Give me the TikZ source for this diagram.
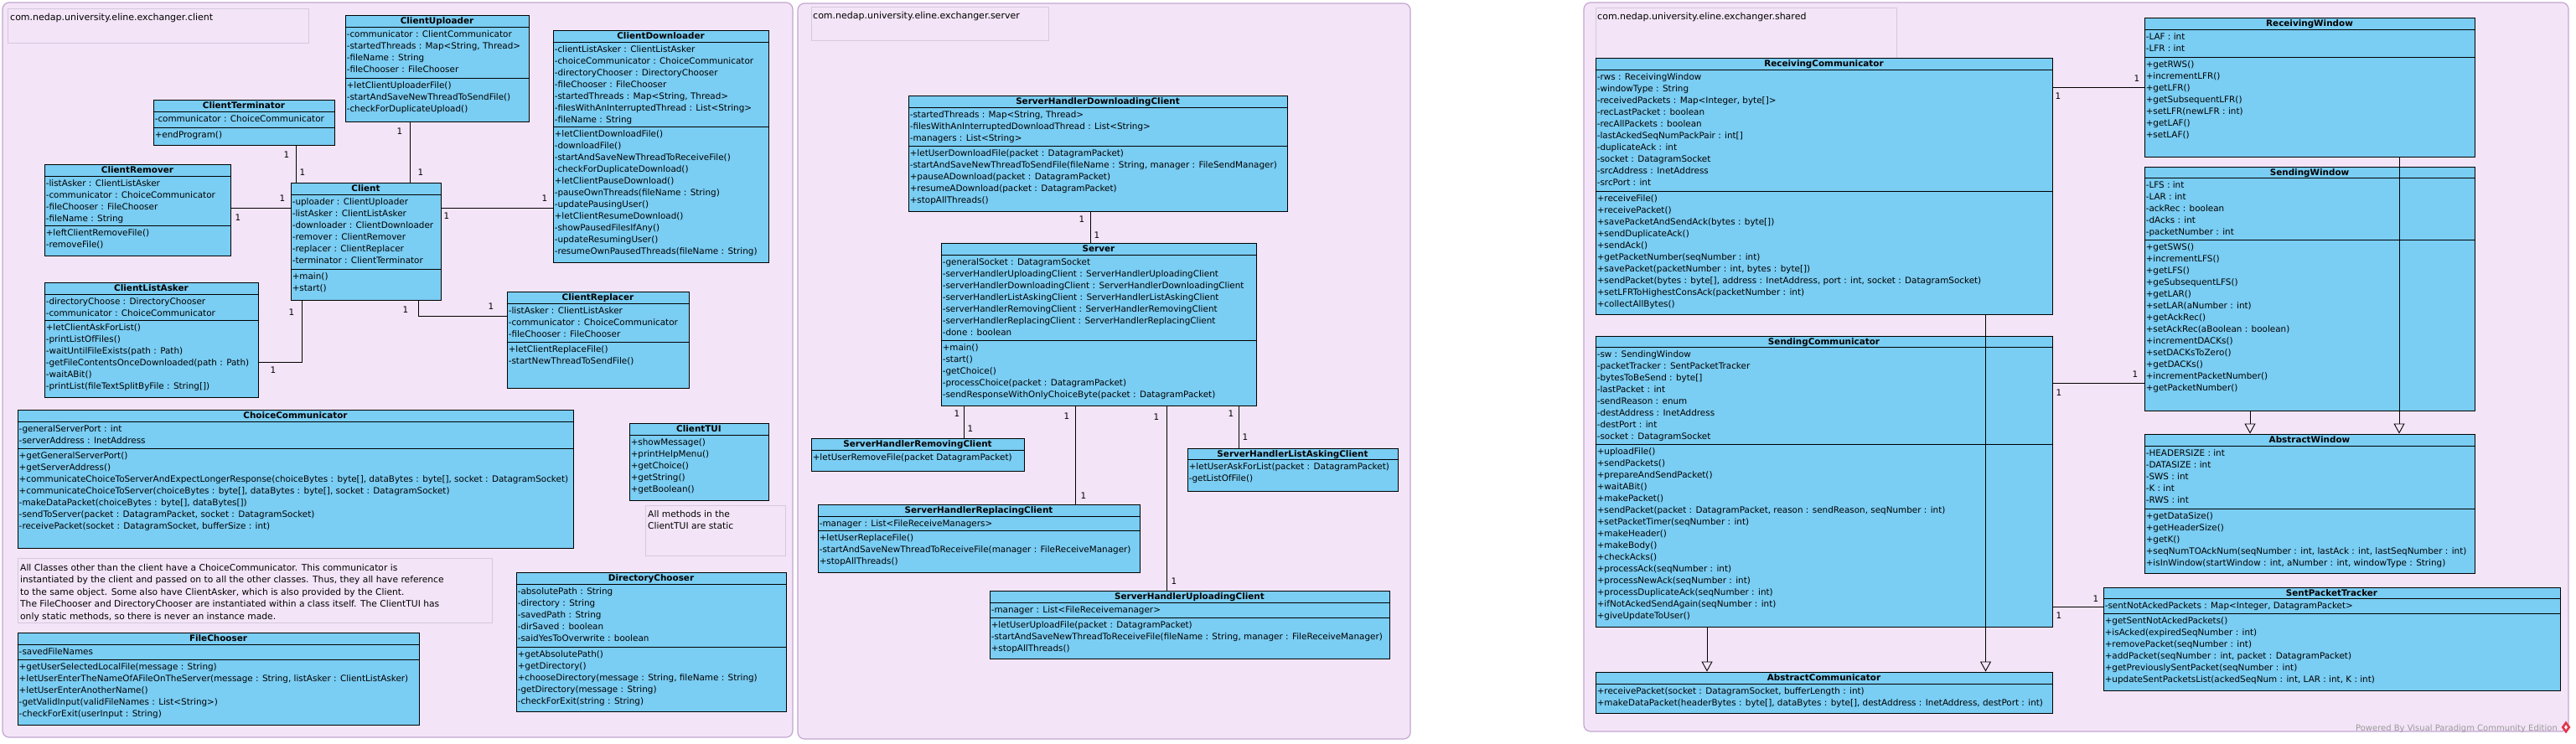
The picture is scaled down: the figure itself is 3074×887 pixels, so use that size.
\documentclass[tikz,border=0pt]{standalone}
\usepackage{fontspec}
\setmainfont{DejaVu Sans}
\usetikzlibrary{fit,arrows.meta,calc,shapes.geometric}
\definecolor{pkgfill}{HTML}{F3E5F7}
\definecolor{pkgline}{HTML}{C4A6D2}
\definecolor{clsfill}{HTML}{7ACDF3}
\definecolor{noteline}{HTML}{D6C8DE}
\definecolor{vpgray}{HTML}{9A9A9A}
\definecolor{vpred}{HTML}{E0364C}
\newcommand\fs{\fontsize{10.4}{14}\selectfont}
\tikzset{
 pkg/.style={draw=pkgline, fill=pkgfill, line width=1.2pt, rounded corners=8pt, inner sep=0pt},
 pkgtitle/.style={draw=noteline, line width=0.8pt, inner sep=0pt},
 pkgname/.style={anchor=west, inner sep=0pt, font=\fontsize{11}{13}\selectfont},
 clsbox/.style={draw=black, fill=clsfill, line width=0.9pt, inner sep=0pt},
 clstitle/.style={anchor=base, font=\fs\bfseries, inner sep=0pt},
 sepline/.style={draw=black, line width=0.9pt},
 lns/.style={anchor=north west, inner sep=0pt, align=left, font=\fs},
 mult/.style={font=\fs, inner sep=0pt},
 assoc/.style={draw=black, line width=0.9pt},
 gen/.style={draw=black, line width=0.9pt, -{Triangle[open, length=12pt, width=13pt]}},
 notebox/.style={draw=noteline, fill=pkgfill, line width=0.8pt, inner sep=0pt},
 notetext/.style={anchor=north west, inner sep=0pt, align=left, font=\fontsize{10.7}{14.5}\selectfont},
}
\newcommand\umlbox[5]{\node[clsbox, fit={(#2,#3) (#4,#5)}] (#1) {};\node[clstitle] (#1-t) at ($(#1.north)+(0,11)$) {#1};}
\newcommand\usep[2]{\draw[sepline] (#1.west |- 0,#2) -- (#1.east |- 0,#2);}
\newcommand\uattr[3]{\node[lns] (#1-a) at ($(#1.west |- 0,#2)+(2,2.9)$) {\strut#3};}
\newcommand\umeth[3]{\node[lns] (#1-m) at ($(#1.west |- 0,#2)+(2,2.9)$) {\strut#3};}
\begin{document}
\begin{tikzpicture}[x=1pt,y=-1pt]
\useasboundingbox (0,0) rectangle (3074,887);
\fill[white] (0,0) rectangle (3074,887);

% ---------------- packages ----------------
\node[pkg, fit={(3,3) (946,880)}] (pclient) {};
\node[pkgtitle, fit={(9,10) (368,51)}] (pclientname) {};
\node[pkgname] (pclientlabel) at (12,21) {com.nedap.university.eline.exchanger.client};

\node[pkg, fit={(952,4) (1683,882)}] (pserver) {};
\node[pkgtitle, fit={(968,8) (1251,48)}] (pservername) {};
\node[pkgname] (pserverlabel) at (970,19) {com.nedap.university.eline.exchanger.server};

\node[pkg, fit={(1890,3) (3065,873)}] (pshared) {};
\node[pkgtitle, fit={(1904,9) (2263,75)}] (psharedname) {};
\node[pkgname] (psharedlabel) at (1906,20) {com.nedap.university.eline.exchanger.shared};

% ---------------- notes ----------------
\node[notebox, fit={(21,666) (587,743)}] (note1) {};
\node[notetext] (note1text) at (24,671) {\strut All Classes other than the client have a ChoiceCommunicator. This communicator is\\instantiated by the client and passed on to all the other classes. Thus, they all have reference\\to the same object. Some also have ClientAsker, which is also provided by the Client.\\The FileChooser and DirectoryChooser are instantiated within a class itself. The ClientTUI has\\only static methods, so there is never an instance made.};
\node[notebox, fit={(770,603) (937,663)}] (note2) {};
\node[notetext] (note2text) at (773,607) {\strut All methods in the\\ClientTUI are static};

% ---------------- client package ----------------
\umlbox{ClientUploader}{412}{18}{631}{145}
\usep{ClientUploader}{32}\usep{ClientUploader}{93}
\uattr{ClientUploader}{32}{-communicator : ClientCommunicator\\-startedThreads : Map<String, Thread>\\-fileName : String\\-fileChooser : FileChooser}
\umeth{ClientUploader}{93}{+letClientUploaderFile()\\-startAndSaveNewThreadToSendFile()\\-checkForDuplicateUpload()}

\umlbox{ClientDownloader}{660}{36}{917}{313}
\usep{ClientDownloader}{50}\usep{ClientDownloader}{151}
\uattr{ClientDownloader}{50}{-clientListAsker : ClientListAsker\\-choiceCommunicator : ChoiceCommunicator\\-directoryChooser : DirectoryChooser\\-fileChooser : FileChooser\\-startedThreads : Map<String, Thread>\\-filesWithAnInterruptedThread : List<String>\\-fileName : String}
\umeth{ClientDownloader}{151}{+letClientDownloadFile()\\-downloadFile()\\-startAndSaveNewThreadToReceiveFile()\\-checkForDuplicateDownload()\\+letClientPauseDownload()\\-pauseOwnThreads(fileName : String)\\-updatePausingUser()\\+letClientResumeDownload()\\-showPausedFilesIfAny()\\-updateResumingUser()\\-resumeOwnPausedThreads(fileName : String)}

\umlbox{ClientTerminator}{183}{119}{399}{173}
\usep{ClientTerminator}{133}\usep{ClientTerminator}{152}
\uattr{ClientTerminator}{133}{-communicator : ChoiceCommunicator}
\umeth{ClientTerminator}{152}{+endProgram()}

\umlbox{ClientRemover}{53}{196}{275}{305}
\usep{ClientRemover}{210}\usep{ClientRemover}{269}
\uattr{ClientRemover}{210}{-listAsker : ClientListAsker\\-communicator : ChoiceCommunicator\\-fileChooser : FileChooser\\-fileName : String}
\umeth{ClientRemover}{269}{+leftClientRemoveFile()\\-removeFile()}

\umlbox{Client}{347}{218}{526}{358}
\usep{Client}{232}\usep{Client}{321}
\uattr{Client}{232}{-uploader : ClientUploader\\-listAsker : ClientListAsker\\-downloader : ClientDownloader\\-remover : ClientRemover\\-replacer : ClientReplacer\\-terminator : ClientTerminator}
\umeth{Client}{321}{+main()\\+start()}

\umlbox{ClientListAsker}{53}{337}{308}{474}
\usep{ClientListAsker}{351}\usep{ClientListAsker}{382}
\uattr{ClientListAsker}{351}{-directoryChoose : DirectoryChooser\\-communicator : ChoiceCommunicator}
\umeth{ClientListAsker}{382}{+letClientAskForList()\\-printListOfFiles()\\-waitUntilFileExists(path : Path)\\-getFileContentsOnceDownloaded(path : Path)\\-waitABit()\\-printList(fileTextSplitByFile : String[])}

\umlbox{ClientReplacer}{605}{348}{822}{463}
\usep{ClientReplacer}{362}\usep{ClientReplacer}{408}
\uattr{ClientReplacer}{362}{-listAsker : ClientListAsker\\-communicator : ChoiceCommunicator\\-fileChooser : FileChooser}
\umeth{ClientReplacer}{408}{+letClientReplaceFile()\\-startNewThreadToSendFile()}

\umlbox{ChoiceCommunicator}{21}{489}{684}{654}
\usep{ChoiceCommunicator}{503}\usep{ChoiceCommunicator}{535}
\uattr{ChoiceCommunicator}{503}{-generalServerPort : int\\-serverAddress : InetAddress}
\umeth{ChoiceCommunicator}{535}{+getGeneralServerPort()\\+getServerAddress()\\+communicateChoiceToServerAndExpectLongerResponse(choiceBytes : byte[], dataBytes : byte[], socket : DatagramSocket)\\+communicateChoiceToServer(choiceBytes : byte[], dataBytes : byte[], socket : DatagramSocket)\\-makeDataPacket(choiceBytes : byte[], dataBytes[])\\-sendToServer(packet : DatagramPacket, socket : DatagramSocket)\\-receivePacket(socket : DatagramSocket, bufferSize : int)}

\umlbox{ClientTUI}{751}{505}{917}{597}
\usep{ClientTUI}{519}
\umeth{ClientTUI}{519}{+showMessage()\\+printHelpMenu()\\+getChoice()\\+getString()\\+getBoolean()}

\umlbox{DirectoryChooser}{616}{683}{938}{849}
\usep{DirectoryChooser}{697}\usep{DirectoryChooser}{772}
\uattr{DirectoryChooser}{697}{-absolutePath : String\\-directory : String\\-savedPath : String\\-dirSaved : boolean\\-saidYesToOverwrite : boolean}
\umeth{DirectoryChooser}{772}{+getAbsolutePath()\\+getDirectory()\\+chooseDirectory(message : String, fileName : String)\\-getDirectory(message : String)\\-checkForExit(string : String)}

\umlbox{FileChooser}{21}{755}{500}{865}
\usep{FileChooser}{769}\usep{FileChooser}{787}
\uattr{FileChooser}{769}{-savedFileNames}
\umeth{FileChooser}{787}{+getUserSelectedLocalFile(message : String)\\+letUserEnterTheNameOfAFileOnTheServer(message : String, listAsker : ClientListAsker)\\+letUserEnterAnotherName()\\-getValidInput(validFileNames : List<String>)\\-checkForExit(userInput : String)}

% ---------------- server package ----------------
\umlbox{ServerHandlerDownloadingClient}{1084}{114}{1536}{252}
\usep{ServerHandlerDownloadingClient}{128}\usep{ServerHandlerDownloadingClient}{174}
\uattr{ServerHandlerDownloadingClient}{128}{-startedThreads : Map<String, Thread>\\-filesWithAnInterruptedDownloadThread : List<String>\\-managers : List<String>}
\umeth{ServerHandlerDownloadingClient}{174}{+letUserDownloadFile(packet : DatagramPacket)\\-startAndSaveNewThreadToSendFile(fileName : String, manager : FileSendManager)\\+pauseADownload(packet : DatagramPacket)\\+resumeADownload(packet : DatagramPacket)\\+stopAllThreads()}

\umlbox{Server}{1123}{290}{1499}{484}
\usep{Server}{304}\usep{Server}{406}
\uattr{Server}{304}{-generalSocket : DatagramSocket\\-serverHandlerUploadingClient : ServerHandlerUploadingClient\\-serverHandlerDownloadingClient : ServerHandlerDownloadingClient\\-serverHandlerListAskingClient : ServerHandlerListAskingClient\\-serverHandlerRemovingClient : ServerHandlerRemovingClient\\-serverHandlerReplacingClient : ServerHandlerReplacingClient\\-done : boolean}
\umeth{Server}{406}{+main()\\-start()\\-getChoice()\\-processChoice(packet : DatagramPacket)\\-sendResponseWithOnlyChoiceByte(packet : DatagramPacket)}

\umlbox{ServerHandlerRemovingClient}{968}{523}{1222}{562}
\usep{ServerHandlerRemovingClient}{537}
\umeth{ServerHandlerRemovingClient}{537}{+letUserRemoveFile(packet DatagramPacket)}

\umlbox{ServerHandlerReplacingClient}{976}{602}{1360}{683}
\usep{ServerHandlerReplacingClient}{616}\usep{ServerHandlerReplacingClient}{633}
\uattr{ServerHandlerReplacingClient}{616}{-manager : List<FileReceiveManagers>}
\umeth{ServerHandlerReplacingClient}{633}{+letUserReplaceFile()\\-startAndSaveNewThreadToReceiveFile(manager : FileReceiveManager)\\+stopAllThreads()}

\umlbox{ServerHandlerUploadingClient}{1181}{705}{1658}{786}
\usep{ServerHandlerUploadingClient}{719}\usep{ServerHandlerUploadingClient}{737}
\uattr{ServerHandlerUploadingClient}{719}{-manager : List<FileReceivemanager>}
\umeth{ServerHandlerUploadingClient}{737}{+letUserUploadFile(packet : DatagramPacket)\\-startAndSaveNewThreadToReceiveFile(fileName : String, manager : FileReceiveManager)\\+stopAllThreads()}

\umlbox{ServerHandlerListAskingClient}{1417}{535}{1668}{586}
\usep{ServerHandlerListAskingClient}{548}
\umeth{ServerHandlerListAskingClient}{548}{+letUserAskForList(packet : DatagramPacket)\\-getListOfFile()}

% ---------------- shared package ----------------
\umlbox{ReceivingCommunicator}{1904}{69}{2449}{375}
\usep{ReceivingCommunicator}{83}\usep{ReceivingCommunicator}{228}
\uattr{ReceivingCommunicator}{83}{-rws : ReceivingWindow\\-windowType : String\\-receivedPackets : Map<Integer, byte[]>\\-recLastPacket : boolean\\-recAllPackets : boolean\\-lastAckedSeqNumPackPair : int[]\\-duplicateAck : int\\-socket : DatagramSocket\\-srcAddress : InetAddress\\-srcPort : int}
\umeth{ReceivingCommunicator}{228}{+receiveFile()\\+receivePacket()\\+savePacketAndSendAck(bytes : byte[])\\+sendDuplicateAck()\\+sendAck()\\+getPacketNumber(seqNumber : int)\\+savePacket(packetNumber : int, bytes : byte[])\\+sendPacket(bytes : byte[], address : InetAddress, port : int, socket : DatagramSocket)\\+setLFRToHighestConsAck(packetNumber : int)\\+collectAllBytes()}

\umlbox{SendingCommunicator}{1904}{401}{2449}{748}
\usep{SendingCommunicator}{414}\usep{SendingCommunicator}{530}
\uattr{SendingCommunicator}{414}{-sw : SendingWindow\\-packetTracker : SentPacketTracker\\-bytesToBeSend : byte[]\\-lastPacket : int\\-sendReason : enum\\-destAddress : InetAddress\\-destPort : int\\-socket : DatagramSocket}
\umeth{SendingCommunicator}{530}{+uploadFile()\\+sendPackets()\\+prepareAndSendPacket()\\+waitABit()\\+makePacket()\\+sendPacket(packet : DatagramPacket, reason : sendReason, seqNumber : int)\\+setPacketTimer(seqNumber : int)\\+makeHeader()\\+makeBody()\\+checkAcks()\\+processAck(seqNumber : int)\\+processNewAck(seqNumber : int)\\+processDuplicateAck(seqNumber : int)\\+ifNotAckedSendAgain(seqNumber : int)\\+giveUpdateToUser()}

\umlbox{AbstractCommunicator}{1904}{802}{2449}{851}
\usep{AbstractCommunicator}{816}
\umeth{AbstractCommunicator}{816}{+receivePacket(socket : DatagramSocket, bufferLength : int)\\+makeDataPacket(headerBytes : byte[], dataBytes : byte[], destAddress : InetAddress, destPort : int)}

\umlbox{ReceivingWindow}{2559}{21}{2953}{187}
\usep{ReceivingWindow}{35}\usep{ReceivingWindow}{68}
\uattr{ReceivingWindow}{35}{-LAF : int\\-LFR : int}
\umeth{ReceivingWindow}{68}{+getRWS()\\+incrementLFR()\\+getLFR()\\+getSubsequentLFR()\\+setLFR(newLFR : int)\\+getLAF()\\+setLAF()}

\umlbox{SendingWindow}{2559}{199}{2953}{490}
\usep{SendingWindow}{212}\usep{SendingWindow}{286}
\uattr{SendingWindow}{212}{-LFS : int\\-LAR : int\\-ackRec : boolean\\-dAcks : int\\-packetNumber : int}
\umeth{SendingWindow}{286}{+getSWS()\\+incrementLFS()\\+getLFS()\\+geSubsequentLFS()\\+getLAR()\\+setLAR(aNumber : int)\\+getAckRec()\\+setAckRec(aBoolean : boolean)\\+incrementDACKs()\\+setDACKsToZero()\\+getDACKs()\\+incrementPacketNumber()\\+getPacketNumber()}

\umlbox{AbstractWindow}{2559}{518}{2953}{684}
\usep{AbstractWindow}{532}\usep{AbstractWindow}{607}
\uattr{AbstractWindow}{532}{-HEADERSIZE : int\\-DATASIZE : int\\-SWS : int\\-K : int\\-RWS : int}
\umeth{AbstractWindow}{607}{+getDataSize()\\+getHeaderSize()\\+getK()\\+seqNumTOAckNum(seqNumber : int, lastAck : int, lastSeqNumber : int)\\+isInWindow(startWindow : int, aNumber : int, windowType : String)}

\umlbox{SentPacketTracker}{2510}{701}{3055}{824}
\usep{SentPacketTracker}{714}\usep{SentPacketTracker}{732}
\uattr{SentPacketTracker}{714}{-sentNotAckedPackets : Map<Integer, DatagramPacket>}
\umeth{SentPacketTracker}{732}{+getSentNotAckedPackets()\\+isAcked(expiredSeqNumber : int)\\+removePacket(seqNumber : int)\\+addPacket(seqNumber : int, packet : DatagramPacket)\\+getPreviouslySentPacket(seqNumber : int)\\+updateSentPacketsList(ackedSeqNum : int, LAR : int, K : int)}

% ---------------- connectors: client ----------------
\draw[assoc] (ClientTerminator.south -| 353,0) -- (Client.north -| 353,0);
\node[mult] (m1) at (342,185) {1};
\node[mult] (m2) at (361,206) {1};
\draw[assoc] (ClientRemover.east |- 0,248) -- (Client.west |- 0,248);
\node[mult] (m3) at (337,237) {1};
\node[mult] (m4) at (284,260) {1};
\draw[assoc] (ClientListAsker.east |- 0,432) -| (Client.south -| 360,0);
\node[mult] (m5) at (348,373) {1};
\node[mult] (m6) at (326,442) {1};
\draw[assoc] (ClientUploader.south -| 489,0) -- (Client.north -| 489,0);
\node[mult] (m7) at (477,157) {1};
\node[mult] (m8) at (502,206) {1};
\draw[assoc] (Client.east |- 0,248) -- (ClientDownloader.west |- 0,248);
\node[mult] (m9) at (650,237) {1};
\node[mult] (m10) at (533,258) {1};
\draw[assoc] (Client.south -| 499,0) |- (ClientReplacer.west |- 0,377);
\node[mult] (m11) at (484,370) {1};
\node[mult] (m12) at (586,366) {1};

% ---------------- connectors: server ----------------
\draw[assoc] (ServerHandlerDownloadingClient.south -| 1301,0) -- (Server.north -| 1301,0);
\node[mult] (m13) at (1291,262) {1};
\node[mult] (m14) at (1309,281) {1};
\draw[assoc] (Server.south -| 1150,0) -- (ServerHandlerRemovingClient.north -| 1150,0);
\node[mult] (m15) at (1142,494) {1};
\node[mult] (m16) at (1158,512) {1};
\draw[assoc] (Server.south -| 1283,0) -- (ServerHandlerReplacingClient.north -| 1283,0);
\node[mult] (m17) at (1273,497) {1};
\node[mult] (m18) at (1293,592) {1};
\draw[assoc] (Server.south -| 1392,0) -- (ServerHandlerUploadingClient.north -| 1392,0);
\node[mult] (m19) at (1380,498) {1};
\node[mult] (m20) at (1401,694) {1};
\draw[assoc] (Server.south -| 1478,0) -- (ServerHandlerListAskingClient.north -| 1478,0);
\node[mult] (m21) at (1469,494) {1};
\node[mult] (m22) at (1486,522) {1};

% ---------------- connectors: shared ----------------
\draw[assoc] (ReceivingCommunicator.east |- 0,104) -- (ReceivingWindow.west |- 0,104);
\node[mult] (m23) at (2456,115) {1};
\node[mult] (m24) at (2550,94) {1};
\draw[assoc] (SendingCommunicator.east |- 0,457) -- (SendingWindow.west |- 0,457);
\node[mult] (m25) at (2457,469) {1};
\node[mult] (m26) at (2548,447) {1};
\draw[assoc] (SendingCommunicator.east |- 0,724) -- (SentPacketTracker.west |- 0,724);
\node[mult] (m27) at (2457,735) {1};
\node[mult] (m28) at (2501,715) {1};
\draw[gen] (SendingCommunicator.south -| 2037,0) -- (AbstractCommunicator.north -| 2037,0);
\draw[gen] (ReceivingCommunicator.south -| 2369.5,0) -- (AbstractCommunicator.north -| 2369.5,0);
\draw[gen] (SendingWindow.south -| 2685,0) -- (AbstractWindow.north -| 2685,0);
\draw[gen] (ReceivingWindow.south -| 2863,0) -- (AbstractWindow.north -| 2863,0);

% ---------------- footer ----------------
\node[anchor=east, inner sep=0pt, text=vpgray, font=\fontsize{10}{12}\selectfont] (vp) at (3052,870) {Powered By Visual Paradigm Community Edition};
\node[diamond, fill=vpred, minimum width=11pt, minimum height=15pt, inner sep=0pt] (vplogo) at (3062,868) {};
\node[diamond, fill=white, minimum width=4pt, minimum height=6pt, inner sep=0pt] (vplogoin) at (3062,868) {};
\end{tikzpicture}
\end{document}
